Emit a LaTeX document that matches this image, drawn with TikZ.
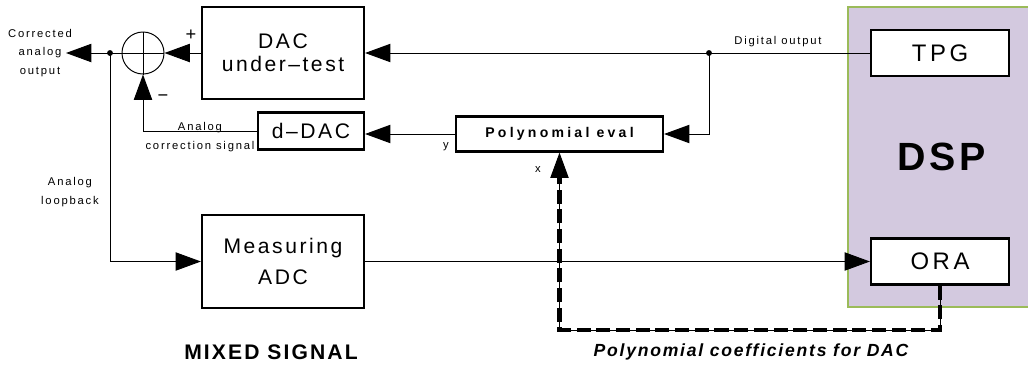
\documentclass[tikz,border=0pt]{standalone}
\usepackage{fontspec}
\setmainfont{Liberation Sans}
\newfontfamily\lblfont{Liberation Sans}[LetterSpace=16]
\newfontfamily\blkfont{Liberation Sans}[LetterSpace=12]
\newfontfamily\unitfont{Liberation Sans}[LetterSpace=15]
\newfontfamily\polyfont{Liberation Sans}[LetterSpace=23]
\newfontfamily\capfont{Liberation Sans}[LetterSpace=10]
\usepackage{tikz}
\usetikzlibrary{calc, positioning, arrows.meta, shapes.geometric}
\usepackage{xcolor}
\definecolor{dspfill}{RGB}{211,201,223}
\definecolor{dspedge}{RGB}{155,187,89}

\begin{document}
\begin{tikzpicture}[
    x=0.025cm, y=-0.025cm,
    >=Stealth,
    block/.style={draw, line width=1.5pt, fill=white, align=center, inner sep=0pt,
                  font=\blkfont\fontsize{15}{18}\selectfont},
    unit/.style={block, minimum width=3.45cm, minimum height=1.15cm,
                 font=\unitfont\fontsize{17}{20}\selectfont},
    polybox/.style={block, minimum width=5.175cm, minimum height=0.875cm,
                    font=\polyfont\bfseries\fontsize{10}{12}\selectfont},
    dspbox/.style={draw=dspedge, fill=dspfill, line width=1.5pt, inner sep=0pt,
                   minimum width=4.675cm, minimum height=7.5cm,
                   font=\capfont\bfseries\fontsize{28}{32}\selectfont},
    summer/.style={draw, circle, line width=0.7pt, minimum size=1.05cm, inner sep=0pt},
    lbl/.style={font=\lblfont\fontsize{8}{13}\selectfont, inner sep=0pt},
    sign/.style={font=\fontsize{13}{15}\selectfont, inner sep=0pt},
    caption/.style={font=\capfont\bfseries\fontsize{15}{18}\selectfont},
    arr/.style={-{Triangle[length=18pt, width=13pt]}, line width=0.7pt},
    wire/.style={line width=0.7pt},
    coef/.style={line width=3pt, dash pattern=on 10pt off 4pt}
]
\useasboundingbox (0,0) rectangle (1028,371);

\def\xblk{283}
\def\xdsp{940}
\def\ytop{53}
\def\ybot{261.5}

\node[dspbox] (dsp) at (941.5,157) {DSP};
\node[unit] (tpg) at (\xdsp,\ytop) {TPG};
\node[unit] (ora) at (\xdsp,\ybot) {ORA};

\node[block, minimum width=4.05cm, minimum height=2.3cm] (dut) at (\xblk,\ytop)
  {DAC\\[-1.5pt]under–test};
\node[block, minimum width=2.65cm, minimum height=0.925cm] (ddac) at (311,131) {d–DAC};
\node[polybox] (poly) at (559.5,134) {Polynomial eval};
\node[block, minimum width=4.05cm, minimum height=2.325cm] (adc) at (\xblk,\ybot)
  {Measuring\\[4pt]ADC};

\node[summer] (sum) at (143,\ytop) {};
\draw[wire] (sum.north) -- (sum.south) (sum.west) -- (sum.east);
\node[sign] (plus) at (191,35) {+};
\node[sign] (minus) at (163,98) {−};

\coordinate (jl) at (110,\ytop);
\coordinate (jd) at (709,\ytop);
\coordinate (outtip) at (66,\ytop);
\coordinate (cb) at (poly.south |- 0,330);

\draw[arr] (dut.west) -- (sum.east);
\draw[wire] (sum.west) -- (jl);
\draw[arr] (jl) -- (outtip);
\draw[arr] (jl) |- (adc.west);
\fill (jl) circle (2.1pt);
\draw[arr] (ddac.west) -| (sum.south);

\draw[arr] (tpg.west) -- (dut.east);
\draw[arr] (jd) |- (poly.east);
\fill (jd) circle (2.1pt);
\draw[arr] (poly.west) -- (poly.west -| ddac.east);
\draw[arr] (adc.east) -- (ora.west);

\draw[arr] (ora.south) |- (cb) -- (poly.south);
\draw[coef, shorten >=17pt] (ora.south) |- (cb) -- (poly.south);

\node[lbl, align=center] (outlbl) at (40,\ytop) {Corrected\\analog\\output};
\node[lbl, align=center] (looplbl) at (70,192) {Analog\\loopback};
\node[lbl, align=center] (corrlbl) at (200,137) {Analog\\correction signal};
\node[lbl] (diglbl) at (778,42) {Digital output};
\node[lbl] (ylbl) at (446,147) {y};
\node[lbl] (xlbl) at (538,170) {x};

\node[caption] (mixlbl) at (271,352) {MIXED SIGNAL};
\node[caption, font=\capfont\bfseries\itshape\fontsize{12.5}{15}\selectfont] (coeflbl)
  at (751,352) {Polynomial coefficients for DAC};

\end{tikzpicture}
\end{document}
